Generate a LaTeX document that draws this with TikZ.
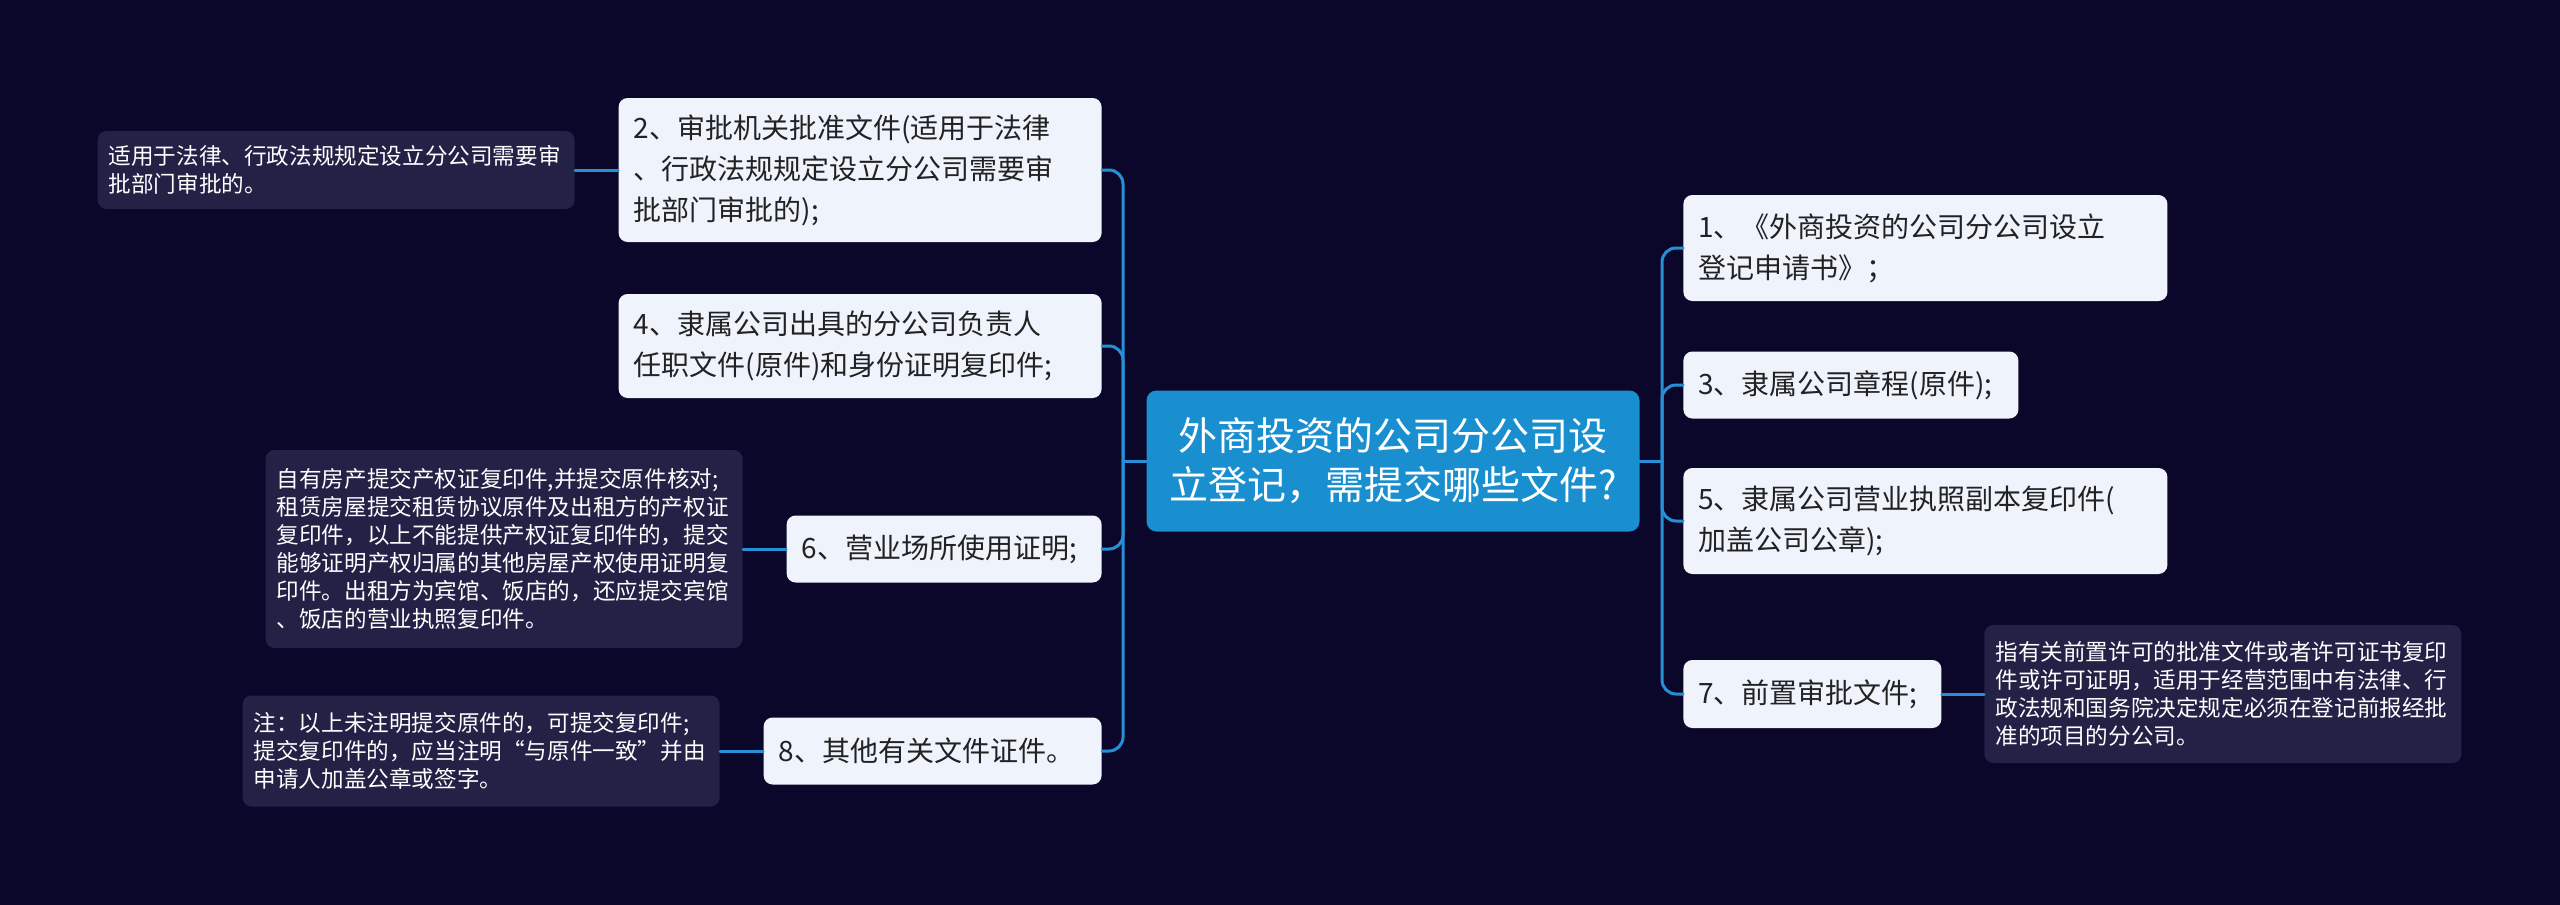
\documentclass[tikz,border=0pt]{standalone}
\usepackage{fontspec}
\setmainfont{Noto Sans CJK SC}
\usepackage{tikz}
\usetikzlibrary{calc}
\definecolor{bgnavy}{RGB}{11,7,42}
\definecolor{topicblue}{RGB}{26,143,208}
\definecolor{linkblue}{RGB}{38,143,214}
\definecolor{itembg}{RGB}{238,243,252}
\definecolor{itemtext}{RGB}{34,34,34}
\definecolor{memobg}{RGB}{36,33,70}

\begin{document}
\begin{tikzpicture}[x=0.5pt,y=-0.5pt,line join=round,line cap=round,
	link/.style={draw=linkblue,line width=1.5pt,rounded corners=7pt},
	topic/.style={fill=topicblue,rounded corners=5pt,text=white,align=center,inner sep=0pt,
		font=\fontsize{19.5}{24.5}\selectfont,minimum width=246.5pt,minimum height=70.5pt},
	item/.style={fill=itembg,rounded corners=4.5pt,text=itemtext,align=left,inner xsep=7.5pt,inner ysep=0pt,
		font=\fontsize{14}{20.5}\selectfont},
	memo/.style={fill=memobg,rounded corners=4.5pt,text=white,align=left,inner xsep=5.5pt,inner ysep=0pt,
		font=\fontsize{11.3}{14}\selectfont,text width=227.5pt}]
		\fill[bgnavy] (0,0) rectangle (2560,905);
		\node[topic] (topic) at (1393,461) {外商投资的公司分公司设\\立登记，需提交哪些文件?};
		\coordinate (rtrunk) at (1662,461);
		\coordinate (ltrunk) at (1123,461);
		% right branch
		\node[item,anchor=west,text width=227pt,minimum height=53pt] (c1) at (1683,248) {1、《外商投资的公司分公司设立\\登记申请书》；};
		\node[item,anchor=west,text width=152.5pt,minimum height=33.5pt] (c3) at (1683,385) {3、隶属公司章程(原件);};
		\node[item,anchor=west,text width=227pt,minimum height=53pt] (c5) at (1683,521) {5、隶属公司营业执照副本复印件(\\加盖公司公章);};
		\node[item,anchor=west,text width=114pt,minimum height=34pt] (c7) at (1683,694) {7、前置审批文件;};
		\node[memo,anchor=west,minimum height=69pt] (n7) at (1984,694) {指有关前置许可的批准文件或者许可证书复印\\件或许可证明，适用于经营范围中有法律、行\\政法规和国务院决定规定必须在登记前报经批\\准的项目的分公司。};
		% left branch
		\node[item,anchor=east,text width=226.5pt,minimum height=72pt] (c2) at (1102,170) {2、审批机关批准文件(适用于法律\\、行政法规规定设立分公司需要审\\批部门审批的);};
		\node[item,anchor=east,text width=226.5pt,minimum height=52pt] (c4) at (1102,346) {4、隶属公司出具的分公司负责人\\任职文件(原件)和身份证明复印件;};
		\node[item,anchor=east,text width=142.5pt,minimum height=33.5pt] (c6) at (1102,549) {6、营业场所使用证明;};
		\node[item,anchor=east,text width=154pt,minimum height=33.5pt] (c8) at (1102,751) {8、其他有关文件证件。};
		\node[memo,anchor=east,minimum height=39pt] (n2) at (575,170) {适用于法律、行政法规规定设立分公司需要审\\批部门审批的。};
		\node[memo,anchor=east,minimum height=99pt] (n6) at (743,549) {自有房产提交产权证复印件,并提交原件核对;\\租赁房屋提交租赁协议原件及出租方的产权证\\复印件，以上不能提供产权证复印件的，提交\\能够证明产权归属的其他房屋产权使用证明复\\印件。出租方为宾馆、饭店的，还应提交宾馆\\、饭店的营业执照复印件。};
		\node[memo,anchor=east,minimum height=55.5pt] (n8) at (720,751) {注：以上未注明提交原件的，可提交复印件;\\提交复印件的，应当注明“与原件一致”并由\\申请人加盖公章或签字。};
		% connectors
		\draw[link] (topic.east) -- (rtrunk);
		\draw[link] (topic.west) -- (ltrunk);
		\foreach \n in {c1,c3,c5,c7} \draw[link] (rtrunk) |- (\n.west);
		\foreach \n in {c2,c4,c6,c8} \draw[link] (ltrunk) |- (\n.east);
		\draw[link] (c7.east) -- (n7.west);
		\draw[link] (c2.west) -- (n2.east);
		\draw[link] (c6.west) -- (n6.east);
		\draw[link] (c8.west) -- (n8.east);
	\end{tikzpicture}
\end{document}
